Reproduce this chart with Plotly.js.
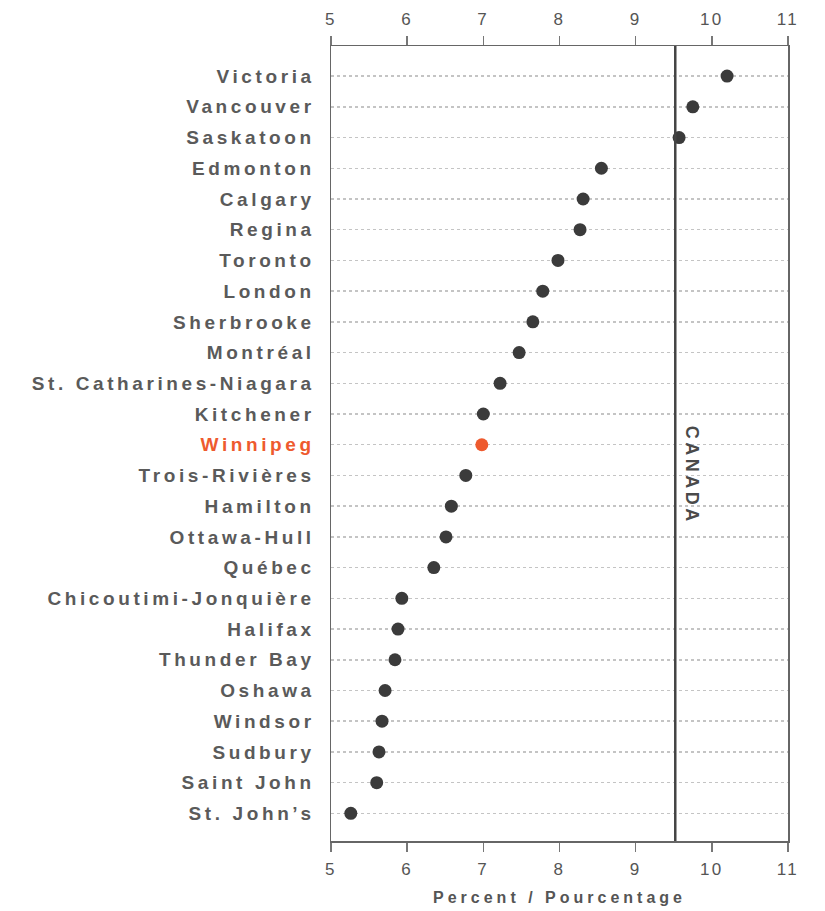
<!DOCTYPE html>
<html><head><meta charset="utf-8">
<script src="https://cdn.plot.ly/plotly-3.0.1.min.js"></script>
<style>
body{margin:0;background:#fff;}
#chart .ytick text{letter-spacing:3.6px;}
#chart .xtick text, #chart .x2tick text{letter-spacing:2.5px;}
#chart .xtitle{letter-spacing:4px;}
#chart .annotation-text{letter-spacing:3.5px;}
</style>
</head><body>
<div id="chart" style="width:825px;height:911px;"></div>
<script>
const cities = ["Victoria","Vancouver","Saskatoon","Edmonton","Calgary","Regina","Toronto","London","Sherbrooke","Montréal","St. Catharines-Niagara","Kitchener","Winnipeg","Trois-Rivières","Hamilton","Ottawa-Hull","Québec","Chicoutimi-Jonquière","Halifax","Thunder Bay","Oshawa","Windsor","Sudbury","Saint John","St. John's"];
const rates = [10.2,9.75,9.57,8.55,8.31,8.27,7.98,7.78,7.65,7.47,7.22,7.0,6.98,6.77,6.58,6.51,6.35,5.93,5.88,5.84,5.71,5.67,5.63,5.6,5.26];
const highlight = "Winnipeg";
const canadaRate = 9.52;
const xTicks = [5,6,7,8,9,10,11];

const dotColors = cities.map(c => c === highlight ? "#ee5a2e" : "#3b3b3b");
const tickText = cities.map(c => c === highlight ? '<span style="color:#ee5a2e">' + c + '</span>' : c.replace("'", "’"));

const traces = [
  {x: rates, y: cities, type: "scatter", mode: "markers", xaxis: "x", yaxis: "y",
   marker: {size: 13, color: dotColors}, hoverinfo: "x+y", showlegend: false},
  {x: [xTicks[0], xTicks[xTicks.length-1]], y: [cities[0], cities[0]], type: "scatter", mode: "markers",
   xaxis: "x2", yaxis: "y", marker: {opacity: 0}, hoverinfo: "skip", showlegend: false}
];

const tickFont = {family: "Liberation Sans, Arial, sans-serif", size: 17, color: "#555"};
const layout = {
  width: 825, height: 911,
  margin: {l: 331, r: 37, t: 46, b: 70},
  paper_bgcolor: "#fff", plot_bgcolor: "#fff",
  font: {family: "Liberation Sans, Arial, sans-serif", color: "#555"},
  xaxis: {range: [5, 11], tickvals: xTicks, ticks: "outside", ticklen: 9, tickcolor: "#777", tickwidth: 1.5,
          showline: true, linecolor: "#666", linewidth: 1.5, showgrid: false, zeroline: false,
          tickfont: tickFont, ticklabelstandoff: 3,
          title: {text: "<b>Percent / Pourcentage</b>", font: {size: 16, color: "#555"}, standoff: 14}},
  xaxis2: {range: [5, 11], matches: "x", overlaying: "x", side: "top", tickvals: xTicks, ticks: "outside",
           ticklen: 9, tickcolor: "#777", tickwidth: 1.5, showline: true, linecolor: "#666", linewidth: 1.5,
           showgrid: false, zeroline: false, tickfont: tickFont, ticklabelstandoff: 4},
  yaxis: {type: "category", categoryorder: "array", categoryarray: cities,
          tickvals: cities, ticktext: tickText.map(t => "<b>" + t + "</b>"),
          range: [cities.length - 1 + 0.9, -0.98], ticks: "", showline: true, mirror: true,
          linecolor: "#666", linewidth: 1.5, showgrid: true, gridcolor: "#c4c4c4", griddash: "dot", gridwidth: 1.5,
          zeroline: false, ticklabelstandoff: 11,
          tickfont: {family: "Liberation Sans, Arial, sans-serif", size: 19, color: "#5a5a5a"}},
  shapes: [{type: "line", xref: "x", yref: "paper", x0: canadaRate, x1: canadaRate, y0: 0, y1: 1,
            line: {color: "#444", width: 2.5}}],
  annotations: [{text: "<b>CANADA</b>", xref: "x", yref: "y", x: canadaRate, y: cities[13], xanchor: "left",
                 xshift: 4, textangle: 90, showarrow: false,
                 font: {family: "Liberation Sans, Arial, sans-serif", size: 18, color: "#4a4a4a"}}]
};

Plotly.newPlot("chart", traces, layout, {displayModeBar: false, staticPlot: true});
</script>
</body></html>
